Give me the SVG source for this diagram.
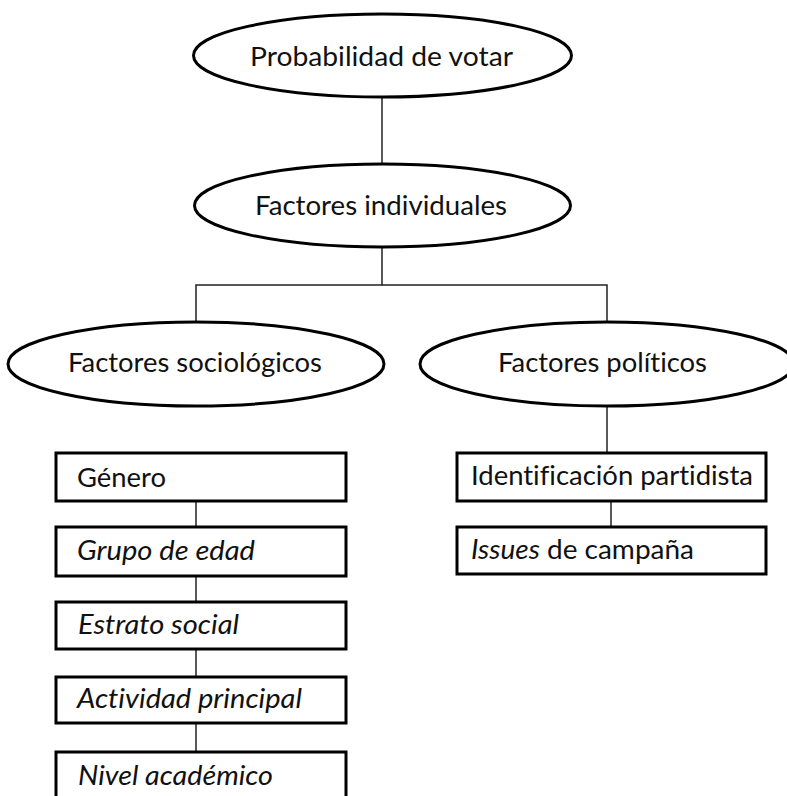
<svg xmlns="http://www.w3.org/2000/svg" width="787" height="796" viewBox="0 0 787 796">
<style>
.el{fill:#fff;stroke:#000;stroke-width:3}
.bx{fill:#fff;stroke:#000;stroke-width:3}
.cn{fill:none;stroke:#222;stroke-width:1.5}
text{font-family:Lato,"Open Sans","Liberation Sans",sans-serif;font-size:27.5px;fill:#111;font-variant-ligatures:none}
.it{font-style:italic}
</style>
<rect width="787" height="796" fill="#fff"/>
<g id="connectors">
<line class="cn" x1="382" y1="97" x2="382" y2="164"/>
<polyline class="cn" points="382,247 382,285 196,285 196,322"/>
<polyline class="cn" points="382,285 607,285 607,322"/>
<line class="cn" x1="607" y1="406" x2="607" y2="453"/>
<line class="cn" x1="196" y1="501" x2="196" y2="527"/>
<line class="cn" x1="196" y1="576" x2="196" y2="602"/>
<line class="cn" x1="196" y1="649" x2="196" y2="677"/>
<line class="cn" x1="196" y1="723" x2="196" y2="752"/>
<line class="cn" x1="611" y1="501" x2="611" y2="527"/>
</g>
<g id="n1"><ellipse class="el" cx="382.5" cy="55.5" rx="189" ry="41.5"/><text x="250" y="66" textLength="263" lengthAdjust="spacingAndGlyphs">Probabilidad de votar</text></g>
<g id="n2"><ellipse class="el" cx="382.5" cy="205.5" rx="188" ry="41.5"/><text x="255" y="215" textLength="252" lengthAdjust="spacingAndGlyphs">Factores individuales</text></g>
<g id="n3"><ellipse class="el" cx="196" cy="364" rx="188" ry="42"/><text x="68" y="372" textLength="254" lengthAdjust="spacingAndGlyphs">Factores sociológicos</text></g>
<g id="n4"><ellipse class="el" cx="607" cy="364" rx="187" ry="42"/><text x="498" y="372" textLength="209" lengthAdjust="spacingAndGlyphs">Factores políticos</text></g>
<g id="b1"><rect class="bx" x="56" y="453" width="290" height="48"/><text x="77" y="487" textLength="89" lengthAdjust="spacingAndGlyphs">Género</text></g>
<g id="b2"><rect class="bx" x="56" y="527" width="290" height="49"/><text class="it" x="77" y="560" textLength="178" lengthAdjust="spacingAndGlyphs">Grupo de edad</text></g>
<g id="b3"><rect class="bx" x="56" y="602" width="290" height="47"/><text class="it" x="78" y="634" textLength="161" lengthAdjust="spacingAndGlyphs">Estrato social</text></g>
<g id="b4"><rect class="bx" x="56" y="677" width="290" height="46"/><text class="it" x="77" y="708" textLength="225" lengthAdjust="spacingAndGlyphs">Actividad principal</text></g>
<g id="b5"><rect class="bx" x="56" y="752" width="290" height="60"/><text class="it" x="78" y="785" textLength="195" lengthAdjust="spacingAndGlyphs">Nivel académico</text></g>
<g id="b6"><rect class="bx" x="457" y="453" width="309" height="48"/><text x="471" y="485" textLength="282" lengthAdjust="spacingAndGlyphs">Identificación partidista</text></g>
<g id="b7"><rect class="bx" x="457" y="527" width="309" height="47"/><text x="471" y="559" textLength="223" lengthAdjust="spacingAndGlyphs"><tspan class="it">Issues</tspan> de campaña</text></g>
</svg>
